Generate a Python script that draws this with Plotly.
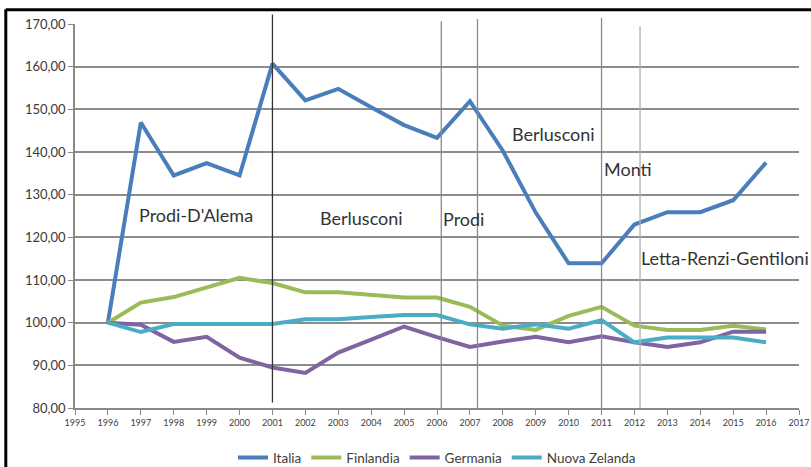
import plotly.graph_objects as go

years = list(range(1996, 2017))
italia = [100, 146.9, 134.5, 137.4, 134.5, 160.7, 152.1, 154.8, 150.5, 146.3, 143.3,
          151.9, 140.3, 125.8, 113.9, 113.9, 123.0, 125.9, 125.9, 128.7, 137.5]
finlandia = [100, 104.7, 106.0, 108.2, 110.5, 109.3, 107.1, 107.1, 106.5, 105.9, 105.9,
             103.7, 99.3, 98.3, 101.6, 103.7, 99.3, 98.3, 98.3, 99.3, 98.4]
germania = [100, 99.5, 95.5, 96.7, 91.8, 89.5, 88.2, 93.0, 96.0, 99.1, 96.6,
            94.3, 95.6, 96.7, 95.4, 96.8, 95.4, 94.3, 95.4, 97.9, 97.9]
nuova_zelanda = [100, 97.8, 99.7, 99.7, 99.7, 99.7, 100.8, 100.8, 101.3, 101.8, 101.8,
                 99.6, 98.6, 99.6, 98.6, 100.6, 95.4, 96.5, 96.5, 96.5, 95.4]

series_names = ["Italia", "Finlandia", "Germania", "Nuova Zelanda"]
series_values = [italia, finlandia, germania, nuova_zelanda]
colors = ["#4A7EBB", "#9BBB59", "#8064A2", "#4BACC6"]

# government changes (vertical lines) and labels
gov_lines = [2001, 2006.13, 2007.23, 2011, 2012.17]
gov_labels = ["Prodi-D'Alema", "Berlusconi", "Prodi", "Berlusconi", "Monti", "Letta-Renzi-Gentiloni"]
gov_label_x = [1998.69, 2003.7, 2006.13, 2009.55, 2011.0, 2012.15]
gov_label_y = [125.3, 124.6, 124.4, 144.3, 136.1, 115.2]
gov_label_anchor = ["center", "center", "left", "center", "left", "left"]

fig = go.Figure()
for name, vals, c in zip(series_names, series_values, colors):
    fig.add_trace(go.Scatter(x=years, y=vals, name=name, mode="lines",
                             line=dict(color=c, width=4), cliponaxis=False))

line_tops = [1.025, 1.007, 1.013, 1.016, 0.994]
line_bots = [0.014, 0, 0, 0, 0]
line_cols = ["#333333", "#8a8a8a", "#8a8a8a", "#8a8a8a", "#b0b0b0"]
shapes = []
for xv, t, b, c in zip(gov_lines, line_tops, line_bots, line_cols):
    shapes.append(dict(type="line", xref="x", yref="paper", x0=xv, x1=xv, y0=b, y1=t,
                       line=dict(color=c, width=1.3), layer="above"))

W, H = 811, 467
L, R = 74.7, 798.7
T, B = 24.3, 408.3
def px_x(p):
    return (p - L) / (R - L)
def px_y(p):
    return (B - p) / (B - T)
# screenshot frame (black border left and top)
shapes.append(dict(type="line", xref="paper", yref="paper", x0=px_x(5.5), x1=px_x(5.5),
                   y0=px_y(470), y1=px_y(9.5), line=dict(color="black", width=3)))
shapes.append(dict(type="line", xref="paper", yref="paper", x0=px_x(5.5), x1=px_x(815),
                   y0=px_y(10), y1=px_y(10), line=dict(color="black", width=3)))

annotations = []
for txt, xv, yv, anc in zip(gov_labels, gov_label_x, gov_label_y, gov_label_anchor):
    annotations.append(dict(x=xv, y=yv, xref="x", yref="y", text=txt, showarrow=False,
                            xanchor=anc, yanchor="middle",
                            font=dict(family="Lato", size=18, color="#333333")))

fig.update_layout(
    width=W, height=H,
    margin=dict(l=L, r=W - R, t=T, b=H - B, autoexpand=False),
    paper_bgcolor="white", plot_bgcolor="white",
    separators=",.",
    showlegend=True,
    legend=dict(orientation="h", x=0.5, xanchor="center", y=px_y(458), yanchor="middle",
                font=dict(family="Lato", size=13.5, color="#404040"), itemwidth=30,
                entrywidth=0),
    shapes=shapes,
    annotations=annotations,
    xaxis=dict(range=[1995, 2017], tickmode="linear", tick0=1995, dtick=1, automargin=False,
               showgrid=False, zeroline=False, showline=True, linecolor="#888888", linewidth=1.5,
               ticks="outside", ticklen=5, tickcolor="#888888",
               tickfont=dict(family="Lato", size=9, color="#404040")),
    yaxis=dict(range=[80, 170], tickmode="linear", tick0=80, dtick=10, tickformat=".2f",
               automargin=False,
               showgrid=True, gridcolor="#8c8c8c", gridwidth=1.5, zeroline=False,
               showline=True, linecolor="#888888", linewidth=1.5,
               ticks="outside", ticklen=5, tickcolor="#888888",
               tickfont=dict(family="Lato", size=13, color="#3a3a3a")),
)

fig.write_html("out.html", config={"displayModeBar": False},
               post_script="document.body.style.margin='0px';document.body.style.overflow='hidden';")
